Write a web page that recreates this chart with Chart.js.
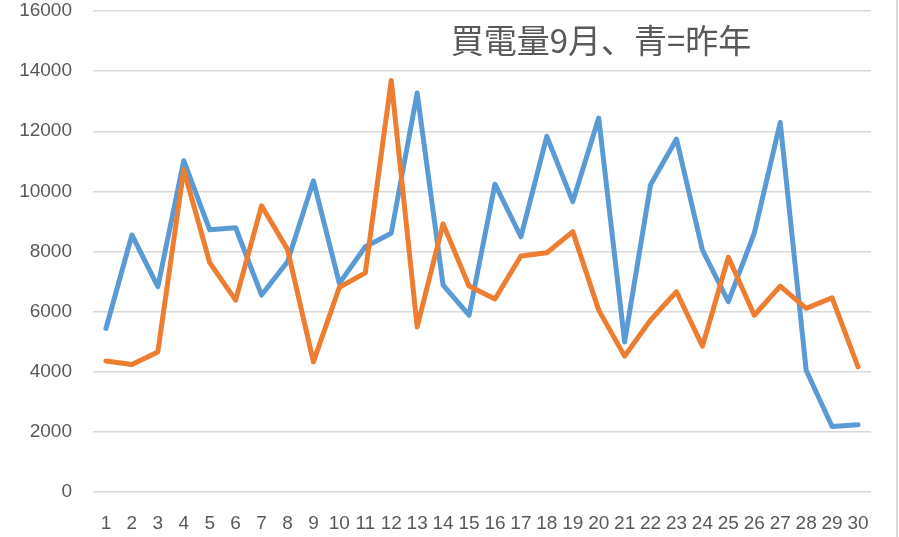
<!DOCTYPE html>
<html>
<head>
<meta charset="utf-8">
<script src="https://cdn.jsdelivr.net/npm/chart.js@4.4.1/dist/chart.umd.min.js"></script>
<style>
    html, body { margin: 0; padding: 0; background: #fff; }
    #box { width: 899px; height: 537px; position: relative; }
</style>
</head>
<body>
<div id="box"><canvas id="myChart_kaiden"></canvas></div>
<script>
// ngày trong tháng
const days = ['1', '2', '3', '4', '5', '6', '7', '8', '9', '10',
    '11', '12', '13', '14', '15', '16', '17', '18', '19', '20',
    '21', '22', '23', '24', '25', '26', '27', '28', '29', '30'];

// 青 = 昨年
const lastYear = [5440, 8550, 6830, 11020, 8720, 8790, 6550, 7660, 10350, 6940,
    8160, 8610, 13270, 6880, 5880, 10240, 8490, 11830, 9660, 12440,
    4990, 10220, 11740, 8050, 6330, 8610, 12290, 4050, 2180, 2240];

// 今年
const thisYear = [4360, 4240, 4660, 10720, 7630, 6380, 9520, 8070, 4330, 6810,
    7290, 13690, 5490, 8920, 6850, 6420, 7850, 7960, 8660, 6050,
    4520, 5720, 6660, 4850, 7810, 5880, 6850, 6110, 6460, 4160];

const yTicks = [0, 2000, 4000, 6000, 8000, 10000, 12000, 14000, 16000];

const titleText = '買電量9月、青=昨年';

// ve tieu de trong vung bieu do + duong vien ben phai
const extras = {
    id: 'extras',
    afterDraw: function(chart) {
        const ctx = chart.ctx;
        ctx.save();
        ctx.fillStyle = '#595959';
        ctx.font = '33px "Noto Sans CJK JP"';
        ctx.textAlign = 'center';
        ctx.textBaseline = 'middle';
        ctx.fillText(titleText, 601, 40);

        ctx.strokeStyle = '#d9d9d9';
        ctx.lineWidth = 2;
        ctx.beginPath();
        ctx.moveTo(897, 0);
        ctx.lineTo(897, chart.height);
        ctx.stroke();
        ctx.restore();
    }
};

const data = {
    labels: days,
    datasets: [{
        label: '昨年',
        data: lastYear,
        borderColor: '#5b9bd5',
        backgroundColor: '#5b9bd5',
        borderWidth: 5,
        pointRadius: 0,
        tension: 0,
        borderCapStyle: 'round',
        borderJoinStyle: 'round',
        order: 1
    }, {
        label: '今年',
        data: thisYear,
        borderColor: '#ed7d31',
        backgroundColor: '#ed7d31',
        borderWidth: 5,
        pointRadius: 0,
        tension: 0,
        borderCapStyle: 'round',
        borderJoinStyle: 'round',
        order: 0
    }]
};

const config = {
    type: 'line',
    data: data,
    options: {
        responsive: true,
        maintainAspectRatio: false,
        animation: false,
        layout: {
            padding: { top: 11, right: 28, bottom: 0, left: 0 }
        },
        plugins: {
            legend: { display: false },
            title: { display: false },
            tooltip: { enabled: false }
        },
        scales: {
            x: {
                offset: true,
                grid: { display: false, drawTicks: false },
                border: { display: false },
                ticks: {
                    color: '#595959',
                    font: { family: 'Liberation Sans', size: 19 },
                    autoSkip: false,
                    maxRotation: 0,
                    padding: 20
                },
                afterFit: function(scale) {
                    scale.height = 45;
                    scale.paddingLeft = 0;
                    scale.paddingRight = 0;
                }
            },
            y: {
                min: 0,
                max: 16000,
                afterBuildTicks: function(scale) {
                    scale.ticks = yTicks.map(function(v) { return { value: v }; });
                },
                grid: { color: '#d9d9d9', lineWidth: 1.5, drawTicks: false },
                border: { display: false },
                ticks: {
                    color: '#595959',
                    font: { family: 'Liberation Sans', size: 19 },
                    padding: 21,
                    callback: function(v) { return String(v); }
                },
                afterFit: function(scale) {
                    scale.width = 93;
                    scale.paddingTop = 0;
                    scale.paddingBottom = 0;
                }
            }
        }
    },
    plugins: [extras]
};

const myChart = new Chart(
    document.getElementById('myChart_kaiden'),
    config
);
</script>
</body>
</html>
